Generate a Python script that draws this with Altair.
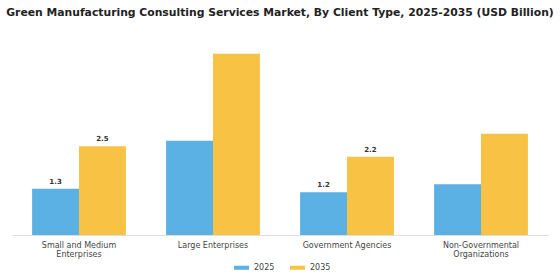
import altair as alt
import pandas as pd

categories = ["Small and Medium Enterprises", "Large Enterprises", "Government Agencies", "Non-Governmental Organizations"]
years = ["2025", "2035"]
values_2025 = [1.3, 2.65, 1.2, 1.43]
values_2035 = [2.5, 5.1, 2.2, 2.85]
labels_2025 = ["1.3", "", "1.2", ""]
labels_2035 = ["2.5", "", "2.2", ""]

rows = []
for i, c in enumerate(categories):
    rows.append({"cat": c, "year": "2025", "value": values_2025[i], "label": labels_2025[i]})
    rows.append({"cat": c, "year": "2035", "value": values_2035[i], "label": labels_2035[i]})
df = pd.DataFrame(rows)

label_expr = ("datum.value == 'Small and Medium Enterprises' ? ['Small and Medium', 'Enterprises'] : "
              "datum.value == 'Non-Governmental Organizations' ? ['Non-Governmental', 'Organizations'] : datum.value")

x = alt.X("cat:N", sort=categories, title=None,
          scale=alt.Scale(paddingInner=0.3, paddingOuter=0.15),
          axis=alt.Axis(labelAngle=0, labelExpr=label_expr, ticks=False, domainColor="#dddddd",
                        labelColor="#444444", labelFontSize=8, labelFont="DejaVu Sans", labelPadding=6,
                        labelLineHeight=9))
y = alt.Y("value:Q", scale=alt.Scale(domain=[0, 5.63]), axis=None)
color = alt.Color("year:N", scale=alt.Scale(domain=years, range=["#5BB1E3", "#F8C245"]),
                  legend=alt.Legend(title=None, orient="none", direction="horizontal", legendX=222, legendY=225,
                                    symbolType="M-1,-0.27H1V0.27H-1Z", symbolSize=225, symbolStrokeWidth=0,
                                    labelFontSize=8, labelFont="DejaVu Sans", labelOffset=5,
                                    labelColor="#444444", columnPadding=15))

base = alt.Chart(df)
bars = base.mark_bar().encode(x=x, y=y, color=color, xOffset=alt.XOffset("year:N", sort=years))
text = base.mark_text(dy=-7, fontSize=7, fontWeight="bold", font="DejaVu Sans", color="#333333").encode(
    x=x, y=y, xOffset=alt.XOffset("year:N", sort=years), text="label:N")

chart = (bars + text).properties(
    width=536, height=200,
    autosize=alt.AutoSizeParams(type="none"),
    padding={"left": 12, "top": 35, "right": 12, "bottom": 45},
    title=alt.TitleParams("Green Manufacturing Consulting Services Market, By Client Type, 2025-2035 (USD Billion)",
                          font="DejaVu Sans", fontSize=10.8, fontWeight="bold", color="#222222", offset=17,
                          anchor="middle"),
).configure_view(stroke=None)

chart.save("out.html", embed_options={"renderer": "svg", "actions": False})
